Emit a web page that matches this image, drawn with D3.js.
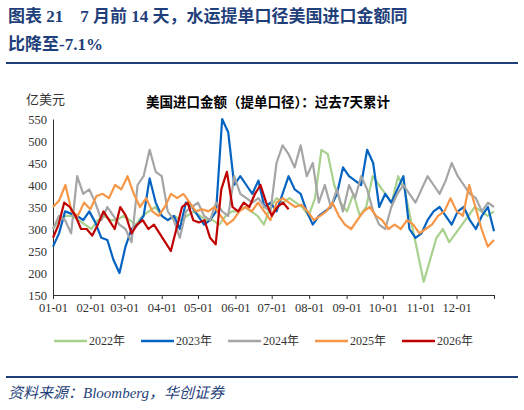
<!DOCTYPE html><html><head><meta charset="utf-8">
<script src="https://cdn.jsdelivr.net/npm/d3@7/dist/d3.min.js"></script>
<style>body{margin:0;background:#fff}</style></head><body><svg id="c" width="524" height="410"></svg>
<script>
const monthLabels=["01-01","02-01","03-01","04-01","05-01","06-01","07-01","08-01","09-01","10-01","11-01","12-01"];
const monthStarts=[0,31,59,90,120,151,181,212,243,273,304,334];
const yTicks=[150,200,250,300,350,400,450,500,550];
const years=["2022年","2023年","2024年","2025年","2026年"];
const colors=["#a9d18e","#0563c1","#a5a5a5","#f79646","#c00000"];
const spans=[365,365,365,365,195];
const s2022=[300,320,330,330,320,310,300,320,330,320,320,330,320,310,330,340,350,330,320,330,320,330,340,330,320,320,310,330,340,340,350,340,330,310,350,370,360,370,360,350,330,370,480,470,400,360,340,380,330,350,420,400,380,360,420,390,320,250,180,230,280,300,270,290,310,330,350,340,330,340];
const s2023=[260,290,340,335,330,320,340,315,280,275,230,200,260,300,310,330,415,360,330,320,330,300,360,350,330,310,320,340,550,520,400,420,400,380,410,350,360,340,380,420,390,380,340,310,330,340,350,380,440,420,410,400,480,450,350,380,360,390,420,300,280,290,320,340,350,330,310,340,350,320,300,330,350,295];
const s2024=[300,330,320,290,420,380,390,360,320,350,330,310,300,270,400,420,480,430,420,340,320,280,340,350,360,330,320,360,340,330,420,380,370,360,370,350,340,450,490,470,440,490,420,450,360,400,350,390,340,400,370,420,390,340,310,300,350,380,400,380,360,390,420,400,380,410,450,420,400,380,370,340,360,350];
const s2025=[350,365,400,340,330,360,345,375,380,370,400,390,420,380,350,370,340,330,350,380,370,380,360,340,345,340,350,330,310,320,340,350,340,360,340,320,360,370,360,350,355,340,320,330,340,360,330,310,300,320,340,350,330,320,300,310,300,320,310,290,300,310,330,340,370,340,330,400,350,300,260,275];
const s2026=[280,310,360,350,330,300,300,285,310,340,320,300,350,330,290,310,320,300,310,290,270,250,300,350,360,320,315,320,280,265,390,430,350,340,360,350,380,400,360,330,350,360,345];
const series=[s2022,s2023,s2024,s2025,s2026];
const svg=d3.select("#c");
const navy="#1f3f7a";
svg.append("text").attr("x",8).attr("y",22).attr("fill",navy).attr("font-size",17).attr("font-weight","bold").attr("font-family","Liberation Serif, Noto Sans CJK SC, serif").text("图表 21　7 月前 14 天，水运提单口径美国进口金额同");
svg.append("text").attr("x",8).attr("y",50).attr("fill",navy).attr("font-size",17).attr("font-weight","bold").attr("font-family","Liberation Serif, Noto Sans CJK SC, serif").text("比降至-7.1%");
svg.append("line").attr("x1",6).attr("x2",518).attr("y1",63).attr("y2",63).attr("stroke",navy).attr("stroke-width",2);
svg.append("line").attr("x1",6).attr("x2",518).attr("y1",377).attr("y2",377).attr("stroke",navy).attr("stroke-width",2);
svg.append("text").attr("x",8).attr("y",398).attr("fill",navy).attr("font-size",15).attr("font-style","italic").attr("font-family","Liberation Serif, Noto Sans CJK SC, serif").text("资料来源：Bloomberg，华创证券");
svg.append("text").attr("x",26).attr("y",104).attr("fill","#333").attr("font-size",13).attr("font-family","Noto Sans CJK SC").text("亿美元");
svg.append("text").attr("x",268).attr("y",107).attr("text-anchor","middle").attr("fill","#000").attr("font-size",13.5).attr("font-weight","bold").attr("font-family","Noto Sans CJK SC").text("美国进口金额（提单口径）：过去7天累计");
const x=d3.scaleLinear().domain([0,365]).range([53,494]);
const y=d3.scaleLinear().domain([150,550]).range([295,119]);
const ya=svg.append("g").attr("transform","translate(53,0)").call(d3.axisLeft(y).tickValues(yTicks).tickSize(0).tickPadding(6));
ya.selectAll("text").attr("font-family","Liberation Serif").attr("font-size",12.5).attr("fill","#333");
ya.select(".domain").attr("stroke","#333");
const xa=svg.append("g").attr("transform","translate(0,295)").call(d3.axisBottom(x).tickValues(monthStarts.concat([365])).tickFormat((d,i)=>monthLabels[i]||"").tickSize(4).tickPadding(4));
xa.selectAll("text").attr("font-family","Liberation Serif").attr("font-size",12.5).attr("fill","#333");
xa.selectAll("line,.domain").attr("stroke","#333");
series.forEach((s,k)=>{
  const line=d3.line().x((d,i)=>x(i*spans[k]/(s.length-1))).y(d=>y(d));
  svg.append("path").datum(s).attr("d",line).attr("fill","none").attr("stroke",colors[k]).attr("stroke-width",2.2).attr("stroke-linejoin","round");
});
const lx=[54,141,228,315,402];
years.forEach((t,k)=>{
  svg.append("line").attr("x1",lx[k]).attr("x2",lx[k]+33).attr("y1",341).attr("y2",341).attr("stroke",colors[k]).attr("stroke-width",2.5);
  svg.append("text").attr("x",lx[k]+35).attr("y",345).attr("font-size",12).attr("fill","#333").attr("font-family","Liberation Serif, Noto Sans CJK SC").text(t);
});
</script></body></html>
